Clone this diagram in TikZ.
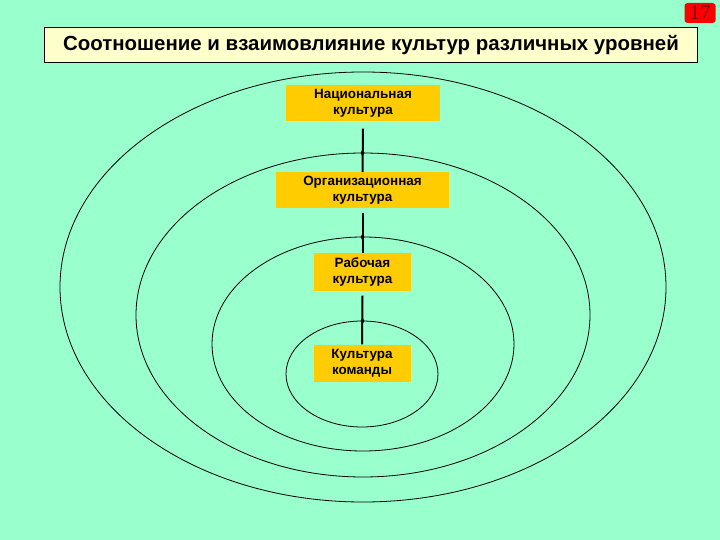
\documentclass[tikz,border=0pt]{standalone}
\usepackage{fontspec}
\setmainfont{Liberation Sans}
\newfontfamily\numfont{Liberation Serif}
\usetikzlibrary{shapes.geometric}
\definecolor{bgmint}{HTML}{99FFCC}
\definecolor{boxgold}{HTML}{FFCC00}
\definecolor{titlefill}{HTML}{FFFFCC}
\definecolor{numred}{HTML}{FF0000}
\definecolor{numtext}{HTML}{800000}
\tikzset{
  culturebox/.style={fill=boxgold, inner sep=0pt, align=center, font=\bfseries\fontsize{13.5}{16}\selectfont},
  ring/.style={draw=black, line width=0.8bp},
  link/.style={draw=black, line width=2bp},
  crossmark/.style={diamond, fill=black, inner sep=0pt, minimum width=4bp, minimum height=7bp}
}
\begin{document}
\begin{tikzpicture}[x=1bp, y=-1bp]
\useasboundingbox (0,0) rectangle (720,540);
\fill[bgmint] (0,0) rectangle (720,540);
% page number
\node[fill=numred, rounded corners=3bp, minimum width=31bp, minimum height=20bp, inner sep=0pt,
      text=numtext, font=\numfont\fontsize{21}{21}\selectfont] (num) at (700,13) {17};
% title
\node[draw=black, line width=1bp, fill=titlefill, minimum width=652bp, minimum height=35bp, inner sep=0pt,
      font=\bfseries\fontsize{20.5}{22}\selectfont] (title) at (371,45.5) {Соотношение и взаимовлияние культур различных уровней};
% rings
\draw[ring] (363,287) ellipse [x radius=303, y radius=215];
\draw[ring] (363,315) ellipse [x radius=227, y radius=162];
\draw[ring] (363,344) ellipse [x radius=151, y radius=107];
\draw[ring] (362,374) ellipse [x radius=76, y radius=53];
% boxes
\node[culturebox, minimum width=154bp, minimum height=36bp] (b1) at (363,103.5) {Национальная\\культура};
\node[culturebox, minimum width=173bp, minimum height=36bp] (b2) at (362.5,190) {Организационная\\культура};
\node[culturebox, minimum width=97bp, minimum height=37bp] (b3) at (362.5,272) {Рабочая\\культура};
\node[culturebox, minimum width=97bp, minimum height=37bp] (b4) at (362,363) {Культура\\команды};
% links
\draw[link] ([yshift=-7bp]b1.south) -- (b2.north);
\draw[link] ([yshift=-5bp]b2.south) -- (b3.north);
\draw[link] ([yshift=-5bp]b3.south) -- (b4.north);
% crossing marks
\node[crossmark] (m1) at (362.5,153) {};
\node[crossmark] (m2) at (362.5,237) {};
\node[crossmark] (m3) at (362.5,321) {};
\end{tikzpicture}
\end{document}
